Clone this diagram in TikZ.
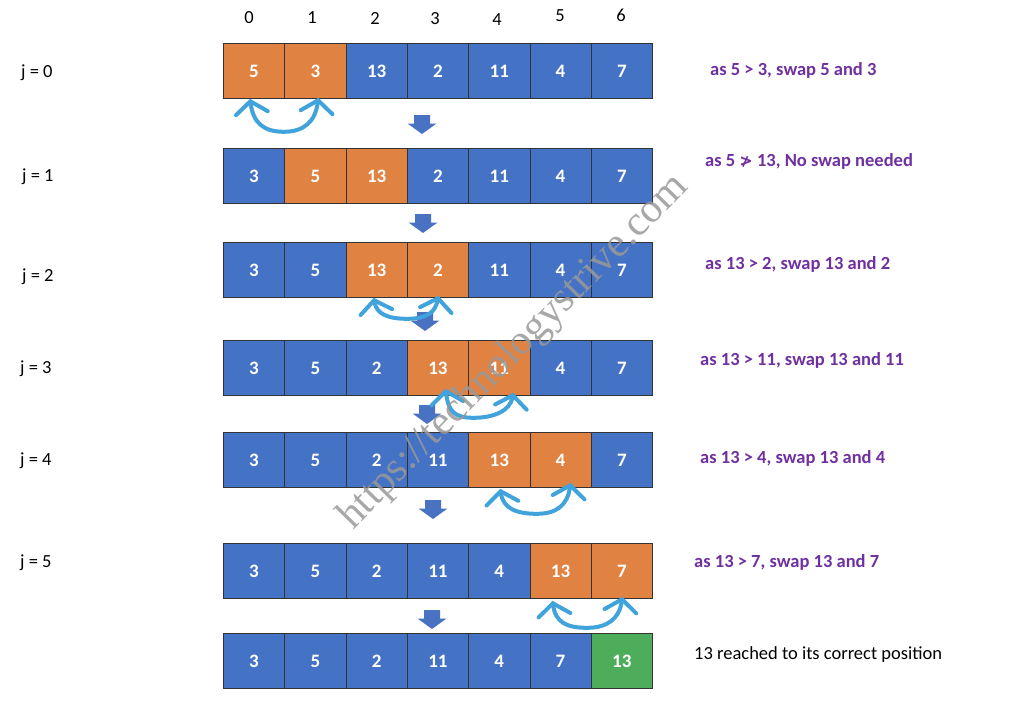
\documentclass[tikz,border=0pt]{standalone}
\usepackage{fontspec}
\setmainfont{Carlito}
\newfontfamily\dejavu{DejaVu Sans}
\newfontfamily\wmfont{Liberation Serif}
\usetikzlibrary{arrows.meta,calc}
\definecolor{cblue}{HTML}{4472C4}
\definecolor{corange}{HTML}{E08242}
\definecolor{cgreen}{HTML}{4EAD5B}
\definecolor{cpurple}{HTML}{7030A0}
\definecolor{swapblue}{HTML}{41A3DB}
\definecolor{arrblue}{HTML}{4A72C2}
\newcommand\cellrow[3]{%
  \foreach [count=\i from 0] \s/\v in {#3} {
    \node[\s] (c#1-\i) at ({223+61.3*\i}, #2) {\v};
  }}
\newcommand\dnarrow[2]{%
  \fill[arrblue] (#1-8,#2) -- (#1+8,#2) -- (#1+8,#2+8.5) -- (#1+14.5,#2+8.5)
    -- (#1,#2+19) -- (#1-14.5,#2+8.5) -- (#1-8,#2+8.5) -- cycle;}
\begin{document}
\begin{tikzpicture}[x=1pt,y=-1pt,
  cellbox/.style={draw=black!80, line width=0.8pt, minimum width=61.3pt,
    minimum height=55pt, anchor=north west, inner sep=0pt, text=white,
    font=\fontsize{19}{21}\selectfont\bfseries},
  bc/.style={cellbox, fill=cblue},
  oc/.style={cellbox, fill=corange},
  gc/.style={cellbox, fill=cgreen},
  note/.style={anchor=base west, text=cpurple, inner sep=0pt,
    font=\fontsize{18.5}{22}\selectfont\bfseries},
  plain/.style={anchor=base west, inner sep=0pt, font=\fontsize{18.5}{22}\selectfont},
  idx/.style={anchor=base, inner sep=0pt, font=\fontsize{18.5}{22}\selectfont},
  swaparrow/.style={draw=swapblue, line width=4pt, line cap=round, line join=round,
    {Straight Barb[length=12pt,width=32pt,line cap=round]}-{Straight Barb[length=12pt,width=32pt,line cap=round]}}
]
\useasboundingbox[fill=white] (0,0) rectangle (1024,713);

% index labels
\node[idx] (i0) at (249,23) {0};
\node[idx] (i1) at (312,23) {1};
\node[idx] (i2) at (375,24) {2};
\node[idx] (i3) at (435,24) {3};
\node[idx] (i4) at (497,25) {4};
\node[idx] (i5) at (560,21) {5};
\node[idx] (i6) at (621,21) {6};

% j labels
\node[plain] (j0) at (21,77) {j = 0};
\node[plain] (j1) at (22,181) {j = 1};
\node[plain] (j2) at (22,281) {j = 2};
\node[plain] (j3) at (20,373) {j = 3};
\node[plain] (j4) at (20,465) {j = 4};
\node[plain] (j5) at (20,567) {j = 5};

% rows
\cellrow{0}{43}{oc/5,oc/3,bc/13,bc/2,bc/11,bc/4,bc/7}
\cellrow{1}{148}{bc/3,oc/5,oc/13,bc/2,bc/11,bc/4,bc/7}
\cellrow{2}{242}{bc/3,bc/5,oc/13,oc/2,bc/11,bc/4,bc/7}
\cellrow{3}{340}{bc/3,bc/5,bc/2,oc/13,oc/11,bc/4,bc/7}
\cellrow{4}{432}{bc/3,bc/5,bc/2,bc/11,oc/13,oc/4,bc/7}
\cellrow{5}{543}{bc/3,bc/5,bc/2,bc/11,bc/4,oc/13,oc/7}
\cellrow{6}{633}{bc/3,bc/5,bc/2,bc/11,bc/4,bc/7,gc/13}

% down arrows
\dnarrow{422}{115}
\dnarrow{423}{214}
\dnarrow{425}{312}
\dnarrow{427}{405}
\dnarrow{433}{500}
\dnarrow{432}{610}

% swap arrows
\draw[swaparrow] ($(c0-0.south)+(-4,0)$) .. controls +(3,24) and +(-20,0) ..
  ($(c0-0.south)!0.5!(c0-1.south)+(-1,33)$) .. controls +(20,0) and +(-3,24) ..
  ($(c0-1.south)+(3,-1)$);
\draw[swaparrow] ($(c2-2.south)+(-3,0)$) .. controls +(3,16) and +(-20,0) ..
  ($(c2-2.south)!0.5!(c2-3.south)+(0,21)$) .. controls +(20,0) and +(-3,16) ..
  ($(c2-3.south)+(0.5,-2)$);
\draw[swaparrow] ($(c3-3.south)+(7.5,-7)$) .. controls +(3,22) and +(-20,0) ..
  ($(c3-3.south)!0.5!(c3-4.south)+(5,22)$) .. controls +(20,0) and +(-3,18) ..
  ($(c3-4.south)+(14,-3)$);
\draw[swaparrow] ($(c4-4.south)+(1,1)$) .. controls +(3,20) and +(-20,0) ..
  ($(c4-4.south)!0.5!(c4-5.south)+(7,26)$) .. controls +(20,0) and +(-3,22) ..
  ($(c4-5.south)+(10,-5)$);
\draw[swaparrow] ($(c5-5.south)+(-8,2)$) .. controls +(3,22) and +(-20,0) ..
  ($(c5-5.south)!0.5!(c5-6.south)+(-4,29)$) .. controls +(20,0) and +(-3,22) ..
  ($(c5-6.south)+(0.5,-2)$);

% notes
\node[note] (n0) at (710,75) {as 5 > 3, swap 5 and 3};
\node[note] (n1) at (705,166) {as 5 {\dejavu\bfseries\fontsize{16}{18}\selectfont ≯} 13, No swap needed};
\node[note] (n2) at (705,269) {as 13 > 2, swap 13 and 2};
\node[note] (n3) at (700,365) {as 13 > 11, swap 13 and 11};
\node[note] (n4) at (700,463) {as 13 > 4, swap 13 and 4};
\node[note] (n5) at (694,567) {as 13 > 7, swap 13 and 7};
\node[plain] (n6) at (694,659) {13 reached to its correct position};

% watermark
\node[rotate=45.5, text=black!40, opacity=0.85, inner sep=0pt,
  font=\wmfont\fontsize{42}{44}\selectfont] (wm) at (514,352) {https://technologystrive.com};
\end{tikzpicture}
\end{document}
